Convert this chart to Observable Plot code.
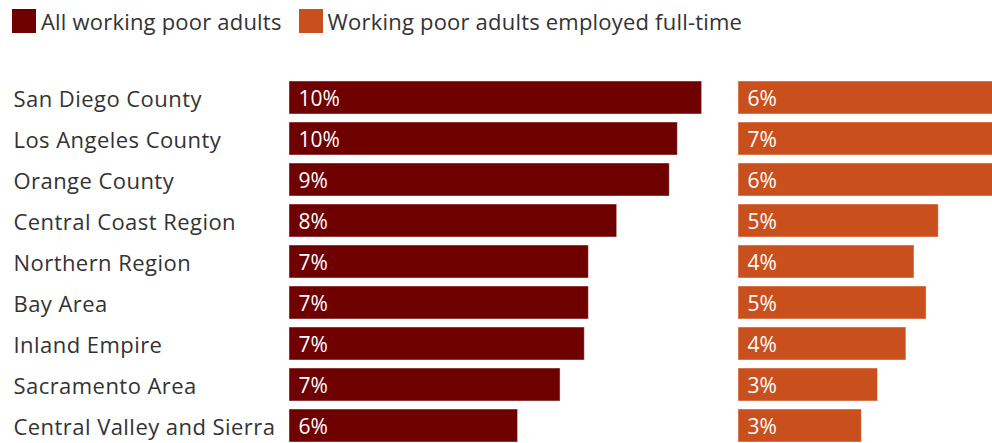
<!DOCTYPE html>
<html>
<head>
<meta charset="utf-8">
<script src="https://cdn.jsdelivr.net/npm/d3@7"></script>
<script src="https://cdn.jsdelivr.net/npm/@observablehq/plot@0.6"></script>
<style>
  html, body { margin: 0; padding: 0; background: #fff; overflow: hidden; }
  body { width: 992px; height: 443px; font-family: "Open Sans", sans-serif; color: #333; }
  #legend { position: absolute; left: 12px; top: 9px; display: flex; align-items: center; font-size: 22px; letter-spacing: 0.2px; height: 24px; }
  .sw { width: 24px; height: 24px; display: inline-block; margin-right: 5px; }
  .item { display: flex; align-items: center; margin-right: 17px; }
  #charts { position: absolute; left: 0; top: 72px; display: flex; }
  #right { overflow: hidden; }
  .ylab text { letter-spacing: 0.45px; }
</style>
</head>
<body>
<div id="legend"></div>
<div id="charts"><div id="left"></div><div id="right"></div></div>
<script>
const regions = ["San Diego County", "Los Angeles County", "Orange County", "Central Coast Region", "Northern Region", "Bay Area", "Inland Empire", "Sacramento Area", "Central Valley and Sierra"];
const allWorkingPoor = [10.2, 9.6, 9.4, 8.1, 7.4, 7.4, 7.3, 6.7, 5.65];
const allLabels = ["10%", "10%", "9%", "8%", "7%", "7%", "7%", "7%", "6%"];
const fullTime = [6.4, 6.8, 6.3, 4.95, 4.35, 4.65, 4.15, 3.45, 3.05];
const fullTimeLabels = ["6%", "7%", "6%", "5%", "4%", "5%", "4%", "3%", "3%"];
const seriesNames = ["All working poor adults", "Working poor adults employed full-time"];
const seriesColors = ["#6e0000", "#c94f1c"];

const legend = document.getElementById("legend");
seriesNames.forEach((n, i) => {
  const it = document.createElement("div");
  it.className = "item";
  it.innerHTML = `<span class="sw" style="background:${seriesColors[i]}"></span><span>${n}</span>`;
  legend.appendChild(it);
});

const leftData = regions.map((r, i) => ({region: r, value: allWorkingPoor[i], label: allLabels[i]}));
const rightData = regions.map((r, i) => ({region: r, value: fullTime[i], label: fullTimeLabels[i]}));

const H = 378;
const yOpts = {domain: regions, padding: 0.2, axis: null};

const left = Plot.plot({
  width: 734, height: H,
  marginLeft: 289, marginRight: 0, marginTop: 0, marginBottom: 0,
  x: {domain: [0, 11], axis: null},
  y: yOpts,
  style: {fontFamily: "Open Sans, sans-serif", background: "transparent"},
  marks: [
    Plot.barX(leftData, {x: "value", y: "region", fill: seriesColors[0], stroke: "#fff", strokeOpacity: 0.45, strokeWidth: 1}),
    Plot.text(leftData, {x: 0, y: "region", text: "label", textAnchor: "start", dx: 9, dy: 1, fill: "#fff", fontSize: 21}),
    Plot.axisY({domain: regions, tickSize: 0, textAnchor: "start", dx: -267, dy: 2, fontSize: 22, fill: "#333", label: null, className: "ylab"})
  ]
});

const right = Plot.plot({
  width: 258, height: H,
  marginLeft: 4, marginRight: 0, marginTop: 0, marginBottom: 0,
  x: {domain: [0, 254 / (445 / 11)], axis: null},
  y: yOpts,
  style: {fontFamily: "Open Sans, sans-serif", background: "transparent"},
  marks: [
    Plot.barX(rightData, {x: "value", y: "region", fill: seriesColors[1], stroke: "#fff", strokeOpacity: 0.45, strokeWidth: 1, clip: true}),
    Plot.text(rightData, {x: 0, y: "region", text: "label", textAnchor: "start", dx: 9, dy: 1, fill: "#fff", fontSize: 21})
  ]
});

document.getElementById("left").appendChild(left);
document.getElementById("right").appendChild(right);
</script>
</body>
</html>
